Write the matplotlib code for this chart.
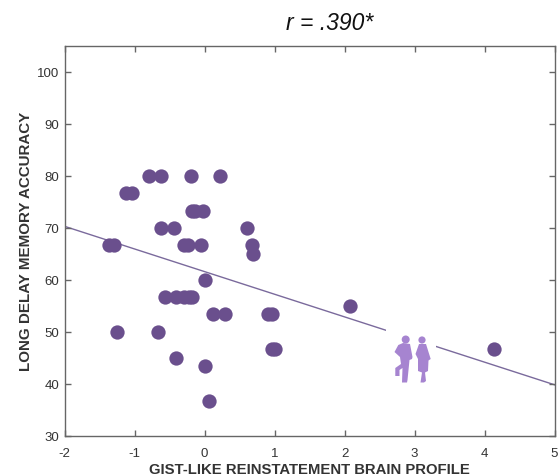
import matplotlib
matplotlib.use("Agg")
import matplotlib.pyplot as plt
from matplotlib.patches import Polygon, Circle, Rectangle

plt.rcParams['font.family'] = ['Liberation Sans', 'DejaVu Sans']
plt.rcParams['axes.unicode_minus'] = False

gist_x = [-0.80, -0.62, -0.19, 0.22,
          -1.12, -1.04,
          -0.18, -0.14, -0.02,
          -0.62, -0.43, 0.61,
          -1.36, -1.30, -0.30, -0.23, -0.05, 0.68,
          0.69,
          0.00,
          -0.56, -0.41, -0.29, -0.22, -0.18,
          2.08,
          0.12, 0.29, 0.90, 0.97,
          -1.25, -0.67,
          0.97, 1.01, 4.14,
          -0.41,
          0.00,
          0.06]
memory_y = [80, 80, 80, 80,
            76.67, 76.67,
            73.33, 73.33, 73.33,
            70, 70, 70,
            66.67, 66.67, 66.67, 66.67, 66.67, 66.67,
            65,
            60,
            56.67, 56.67, 56.67, 56.67, 56.67,
            55,
            53.33, 53.33, 53.33, 53.33,
            50, 50,
            46.67, 46.67, 46.67,
            45,
            43.33,
            36.67]

fit_x = [-2, 5]
fit_y = [70.3, 39.8]

x_ticks = [-2, -1, 0, 1, 2, 3, 4, 5]
y_ticks = [30, 40, 50, 60, 70, 80, 90, 100]

dot_color = "#6a4f8d"
line_color = "#7a6a9c"
figure_color = "#a684d0"
spine_color = "#666666"
text_color = "#333333"

fig = plt.figure(figsize=(5.59, 4.77), dpi=100)
ax = fig.add_axes([64.5 / 559, (477 - 436.7) / 477, 490 / 559, 389.7 / 477])

ax.plot(fit_x, fit_y, color=line_color, lw=1, zorder=1)
ax.scatter(gist_x, memory_y, s=106, color=dot_color, linewidths=0, zorder=3)

ax.set_xlim(-2, 5)
ax.set_ylim(30, 105)
ax.set_xticks(x_ticks)
ax.set_yticks(y_ticks)
ax.tick_params(direction='in', top=True, right=True, length=4, width=1,
               color=spine_color, labelcolor=text_color, labelsize=9.5, pad=4)
ax.tick_params(axis='x', pad=8)
for s in ax.spines.values():
    s.set_color(spine_color)
    s.set_linewidth(1)

ax.set_xlabel("GIST-LIKE REINSTATEMENT BRAIN PROFILE", fontsize=10.7, fontweight='bold',
              color=text_color, labelpad=2)
ax.set_ylabel("LONG DELAY MEMORY ACCURACY", fontsize=10.9, fontweight='bold',
              color=text_color, labelpad=3)
fig.text(330 / 559, 1 - 24 / 477, "r = .390*", fontsize=16.5, style='italic',
         color="#111111", ha='center', va='center')


# silhouette outlines below are in picture pixels
def px(x, y):
    return ((x - 64.5) / 70 - 2, 105 - (y - 47) / 5.196)


ax.add_patch(Rectangle(px(386, 371), 0.72, (371 - 320) / 5.196, color='white', lw=0, zorder=2))

man = [(398.3, 346), (403, 344), (410, 345), (412.5, 358), (412, 360), (409.5, 361), (409, 366),
       (407.5, 381), (407, 383.5), (402, 383.5), (402.5, 369), (399.5, 371), (399.5, 377), (395.3, 377),
       (395.3, 369), (401, 365), (400, 358), (394.5, 353)]
woman = [(419, 345), (426, 345), (430.7, 360), (428.5, 361.5), (428, 372), (425, 373.5),
         (426, 382), (424, 383.5), (420.5, 383.5), (422, 373.5), (418, 372), (418, 360), (415.5, 355)]
ax.add_patch(Polygon([px(*p) for p in man], closed=True, color=figure_color, lw=0, zorder=4))
ax.add_patch(Polygon([px(*p) for p in woman], closed=True, color=figure_color, lw=0, zorder=4))
for cx, cy, r in [(405.7, 340.5, 4), (422, 341, 3.6)]:
    t = fig.dpi_scale_trans
    ax.add_patch(Circle((cx / 100, (477 - cy) / 100), r / 100, transform=t,
                        color=figure_color, lw=0, zorder=4))

fig.savefig("out.png", dpi=100)
